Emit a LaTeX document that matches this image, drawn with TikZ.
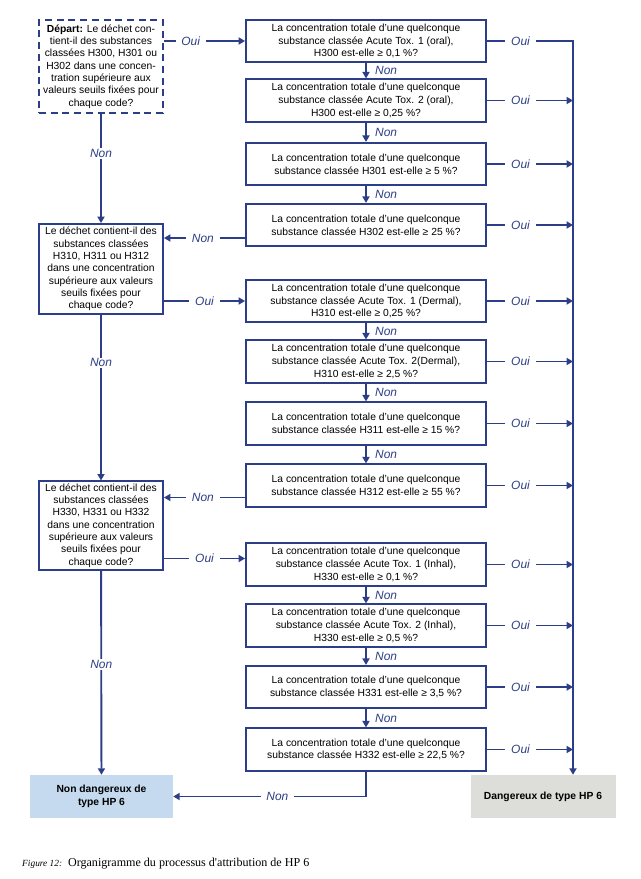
\documentclass[tikz,border=0pt]{standalone}
\usepackage{fontspec}
\setmainfont{Liberation Sans}
\newfontfamily\legende{Liberation Serif}
\usetikzlibrary{arrows.meta, positioning, calc}
\definecolor{trait}{RGB}{44,62,135}
\definecolor{nondang}{RGB}{197,218,238}
\definecolor{dang}{RGB}{221,221,218}
\tikzset{
  qbox/.style={rectangle, draw=trait, line width=1.6pt, fill=white, align=center,
               minimum width=7.2cm, minimum height=1.27cm, inner sep=1pt,
               font=\fontsize{8.8}{10.9}\selectfont},
  dbox/.style={rectangle, draw=trait, line width=1.6pt, fill=white, align=center,
               minimum width=3.72cm, inner sep=2pt, font=\fontsize{8.8}{10.5}\selectfont},
  finbox/.style={rectangle, align=center, minimum height=1.29cm, inner sep=2pt,
               font=\bfseries\fontsize{8.8}{10.9}\selectfont},
  fleche/.style={-{Triangle[length=5.5pt,width=6pt]}, line width=1.6pt, draw=trait},
  etiq/.style={font=\itshape\fontsize{10.2}{11}\selectfont, text=trait, fill=white,
               inner xsep=5pt, inner ysep=1pt}
}
\begin{document}
\begin{tikzpicture}[x=0.03cm, y=-0.03cm]
    \useasboundingbox (0,0) rectangle (640,879);
    \node[dbox, dashed, dash pattern=on 6pt off 4pt, minimum height=2.79cm] (depart) at (101,66.5)
      {\textbf{Départ:} Le déchet con-\\tient-il des substances\\classées H300, H301 ou\\H302 dans une concen-\\tration supérieure aux\\valeurs seuils fixées pour\\chaque code?};
    \node[dbox, minimum height=2.7cm] (l2) at (101,269)
      {Le déchet contient-il des\\substances classées\\H310, H311 ou H312\\dans une concentration\\supérieure aux valeurs\\seuils fixées pour\\chaque code?};
    \node[dbox, minimum height=2.55cm] (l3) at (101,525.5)
      {Le déchet contient-il des\\substances classées\\H330, H331 ou H332\\dans une concentration\\supérieure aux valeurs\\seuils fixées pour\\chaque code?};
    \node[qbox] (r1) at (366,41)
      {La concentration totale d’une quelconque\\substance classée Acute Tox. 1 (oral),\\H300 est-elle ≥ 0,1 \%?};
    \node[qbox] (r2) at (366,100.5)
      {La concentration totale d’une quelconque\\substance classée Acute Tox. 2 (oral),\\H300 est-elle ≥ 0,25 \%?};
    \node[qbox] (r3) at (366,164)
      {La concentration totale d’une quelconque\\substance classée H301 est-elle ≥ 5 \%?};
    \node[qbox] (r4) at (366,225)
      {La concentration totale d’une quelconque\\substance classée H302 est-elle ≥ 25 \%?};
    \node[qbox] (r5) at (366,301)
      {La concentration totale d’une quelconque\\substance classée Acute Tox. 1 (Dermal),\\H310 est-elle ≥ 0,25 \%?};
    \node[qbox] (r6) at (366,361.5)
      {La concentration totale d’une quelconque\\substance classée Acute Tox. 2(Dermal),\\H310 est-elle ≥ 2,5 \%?};
    \node[qbox] (r7) at (366,423.5)
      {La concentration totale d’une quelconque\\substance classée H311 est-elle ≥ 15 \%?};
    \node[qbox] (r8) at (366,485.5)
      {La concentration totale d’une quelconque\\substance classée H312 est-elle ≥ 55 \%?};
    \node[qbox] (r9) at (366,564.5)
      {La concentration totale d’une quelconque\\substance classée Acute Tox. 1 (Inhal),\\H330 est-elle ≥ 0,1 \%?};
    \node[qbox] (r10) at (366,625.5)
      {La concentration totale d’une quelconque\\substance classée Acute Tox. 2 (Inhal),\\H330 est-elle ≥ 0,5 \%?};
    \node[qbox] (r11) at (366,687)
      {La concentration totale d’une quelconque\\substance classée H331 est-elle ≥ 3,5 \%?};
    \node[qbox] (r12) at (366,749.5)
      {La concentration totale d’une quelconque\\substance classée H332 est-elle ≥ 22,5 \%?};
    \node[finbox, fill=nondang, minimum width=4.29cm] (nd) at (101.5,796.5) {Non dangereux de\\type HP 6};
    \node[finbox, fill=dang, minimum width=4.35cm] (dang) at (543,796.5) {Dangereux de type HP 6};
    \node[anchor=base west, inner sep=0pt] (legende) at (22,866)
      {{\legende\itshape\fontsize{8}{9}\selectfont Figure 12:}\hspace{5pt}{\legende\fontsize{10.3}{12}\selectfont Organigramme du processus d'attribution de HP 6}};
    \coordinate (droite) at (573,0);
    \coordinate (n4) at ($(r4.west)+(0,13)$);
    \coordinate (n8) at ($(r8.west)+(0,12)$);
    \coordinate (o9) at ($(r9.west)+(0,-6)$);
    \draw[fleche] (depart.east |- r1.west) -- node[etiq, pos=0.33]{Oui} (r1.west);
    \draw[fleche] (depart) -- node[etiq, pos=0.36]{Non} (l2);
    \draw[fleche] (l2) -- node[etiq, pos=0.29]{Non} (l3);
    \draw[fleche] (l3) -- node[etiq, pos=0.46]{Non} (nd);
    \draw[fleche] (l2.east |- r5.west) -- node[etiq]{Oui} (r5.west);
    \draw[fleche] (l3.east |- o9) -- node[etiq]{Oui} (o9);
    \draw[fleche] (n4) -- node[etiq, pos=0.52]{Non} (n4 -| l2.east);
    \draw[fleche] (n8) -- node[etiq, pos=0.52]{Non} (n8 -| l3.east);
    \foreach \a/\b in {r1/r2, r2/r3, r3/r4, r5/r6, r6/r7, r7/r8, r9/r10, r10/r11, r11/r12}
      \draw[fleche] (\a) -- node[etiq, right, fill=none, inner xsep=2pt, xshift=5pt]{Non} (\b);
    \draw[fleche] (r1.east) -- node[etiq, pos=0.39]{Oui} (r1.east -| droite) -- (droite |- dang.north);
    \foreach \i in {2,...,12}
      \draw[fleche] (r\i.east) -- node[etiq, pos=0.39]{Oui} (r\i.east -| droite);
    \draw[fleche] (r12) |- node[etiq, pos=0.73]{Non} (nd);
\end{tikzpicture}
\end{document}
